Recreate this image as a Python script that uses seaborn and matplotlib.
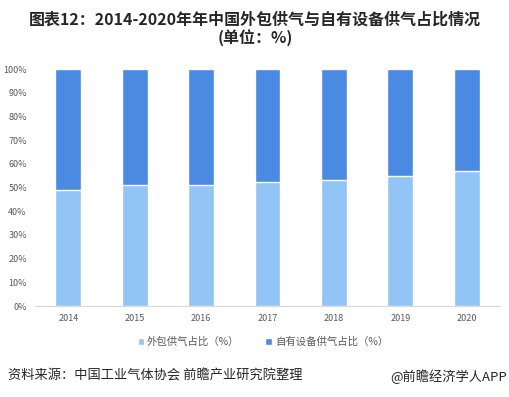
import pandas as pd
import matplotlib.pyplot as plt
import seaborn as sns

# =====================================
# DATA
# =====================================

years = ["2014", "2015", "2016", "2017", "2018", "2019", "2020"]

outsource_share = [49, 51, 51, 52.5, 53, 55, 57]

own_share = [100 - v for v in outsource_share]

df = pd.DataFrame({
    "year": years,
    "outsource": outsource_share,
    "total": [a + b for a, b in zip(outsource_share, own_share)]
})

light_blue = "#92C4F6"
dark_blue = "#4A8AE2"

# =====================================
# PLOT
# =====================================

sns.set_style("white")
plt.rcParams['font.family'] = ['Noto Sans CJK SC', 'DejaVu Sans']

fig = plt.figure(figsize=(5.1, 3.97), dpi=100)
ax = fig.add_axes([0.069, 0.229, 0.911, 0.597])

sns.barplot(
    x="year",
    y="total",
    data=df,
    color=dark_blue,
    width=0.39,
    saturation=1,
    ax=ax,
    label="自有设备供气占比（%）"
)

sns.barplot(
    x="year",
    y="outsource",
    data=df,
    color=light_blue,
    width=0.39,
    saturation=1,
    ax=ax,
    label="外包供气占比（%）"
)

ax.set_ylim(0, 100)
ax.set_xlim(-0.5, 6.5)
ax.set_yticks(range(0, 101, 10))
ax.set_yticklabels([f"{v}%" for v in range(0, 101, 10)])
ax.set_xlabel("")
ax.set_ylabel("")

for s in ["top", "right", "left"]:
    ax.spines[s].set_visible(False)
ax.spines["bottom"].set_color("#D9D9D9")

ax.tick_params(axis="both", length=0, labelsize=6.5, colors="#595959")
ax.tick_params(axis="y", pad=6)
ax.tick_params(axis="x", pad=6)

handles, labels = ax.get_legend_handles_labels()
ax.legend(
    handles[::-1],
    labels[::-1],
    loc="upper center",
    bbox_to_anchor=(0.49, -0.09),
    ncol=2,
    frameon=False,
    fontsize=7.5,
    handlelength=0.6,
    handleheight=0.6,
    handletextpad=0.3,
    columnspacing=2.5,
    labelcolor="#595959"
)

fig.text(
    0.5, 0.95,
    "图表12：2014-2020年年中国外包供气与自有设备供气占比情况",
    ha="center", va="center", fontsize=11.5, fontweight="bold", color="#262626"
)
fig.text(
    0.5, 0.905,
    "(单位：%)",
    ha="center", va="center", fontsize=11.5, fontweight="bold", color="#262626"
)

fig.text(
    0.015, 0.052,
    "资料来源：中国工业气体协会 前瞻产业研究院整理",
    ha="left", va="center", fontsize=9.5, color="#262626"
)
fig.text(
    0.995, 0.052,
    "@前瞻经济学人APP",
    ha="right", va="center", fontsize=9.5, color="#262626"
)

plt.savefig("out.png", dpi=100)
